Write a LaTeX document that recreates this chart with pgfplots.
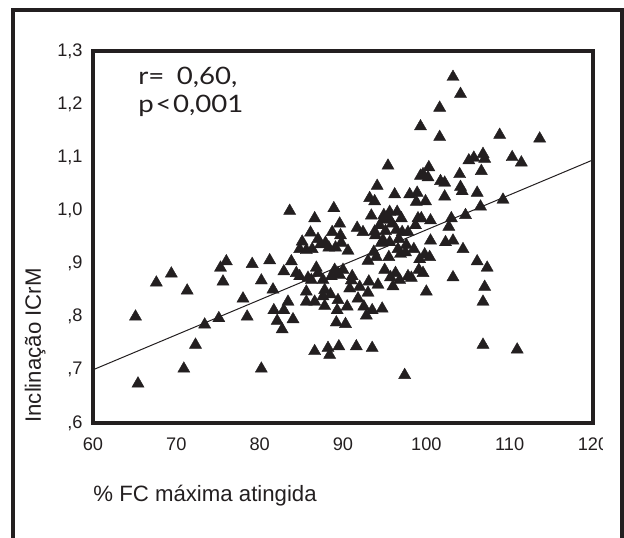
\documentclass[border=0pt]{standalone}
\usepackage{fontspec}
\setmainfont{Liberation Sans}
\newfontfamily\statfont{Lato}
\usepackage{graphicx}
\usepackage{trimclip}
\usepackage{pgfplots}
\pgfplotsset{compat=1.18}
\definecolor{ink}{RGB}{35,31,32}

\begin{document}
\begin{tikzpicture}
\begin{axis}[
    scale only axis,
    width=250pt, height=186pt,
    xmin=60, xmax=120, ymin=0.6, ymax=1.3,
    xtick={60,70,80,90,100,110,120},
    xticklabels={60,70,80,90,100,110,{\makebox{\clipbox{0pt 0pt 2.8pt 0pt}{120}\hspace{2.8pt}}}},
    ytick={0.6,0.7,0.8,0.9,1.0,1.1,1.2,1.3},
    yticklabels={{,6},{,7},{,8},{,9},{1,0},{1,1},{1,2},{1,3}},
    major tick length=0pt,
    axis line style={draw=ink, line width=1.65pt},
    clip=false,
    tick label style={font=\fontsize{9.1}{11}\selectfont, text=ink, inner sep=0pt},
    yticklabel style={xshift=-5pt},
    xticklabel style={yshift=-7.3pt},
    xlabel={\% FC máxima atingida},
    ylabel={Inclinação ICrM},
    xlabel style={at={(rel axis cs:0,-0.212)}, anchor=base west, inner sep=0pt,
        font=\fontsize{11.1}{13}\selectfont, text=ink},
    ylabel style={at={(rel axis cs:-0.104,0)}, anchor=base west, inner sep=0pt,
        font=\fontsize{11.1}{13}\selectfont, text=ink},
]
\addplot[ink, line width=0.5pt, no marks] coordinates {(60,0.70) (120,1.095)};
\addplot[only marks, mark=triangle*, mark size=3.5pt,
    mark options={fill=ink, draw=ink, line width=0.2pt}] table {
x y
65.1 0.800
65.4 0.674
67.6 0.864
69.4 0.881
71.3 0.849
70.9 0.702
72.3 0.747
73.4 0.785
75.1 0.797
75.3 0.892
76.0 0.904
75.6 0.866
78.0 0.834
78.5 0.800
79.1 0.899
80.2 0.868
80.2 0.702
81.2 0.906
81.6 0.851
81.7 0.812
82.1 0.792
82.7 0.776
82.9 0.812
83.4 0.828
82.9 0.885
83.6 0.999
83.8 0.904
84.0 0.795
84.4 0.882
84.8 0.927
84.8 0.876
85.1 0.941
85.6 0.847
85.6 0.828
85.8 0.873
86.1 0.958
86.3 0.927
86.6 0.828
86.6 0.985
86.6 0.735
86.8 0.892
87.0 0.946
87.0 0.882
87.3 0.936
87.6 0.869
87.8 0.850
87.9 0.939
88.2 0.741
88.4 0.728
88.5 0.842
88.7 0.959
88.9 1.004
89.0 0.888
89.1 0.930
89.2 0.789
89.3 0.812
89.4 0.831
89.4 0.882
89.5 0.744
89.6 0.975
89.7 0.953
89.8 0.939
90.0 0.888
90.3 0.786
90.5 0.819
90.6 0.924
90.8 0.853
91.1 0.876
91.6 0.744
91.7 0.967
91.8 0.834
92.0 0.856
92.4 0.959
92.5 0.819
92.8 0.802
93.0 0.905
93.1 0.866
93.2 1.023
93.4 0.990
93.5 0.741
93.5 0.812
93.7 0.922
93.8 1.017
93.9 0.953
94.1 1.046
94.2 0.860
94.4 0.972
94.6 0.939
94.7 0.815
94.9 0.991
95.0 0.888
95.1 0.961
95.4 1.084
95.5 0.912
95.6 0.997
95.7 0.874
95.9 0.975
96.2 1.030
96.3 0.882
96.5 0.997
96.6 0.927
96.7 0.946
96.8 0.869
97.0 0.985
97.1 0.959
97.4 0.690
97.5 0.921
97.8 0.959
97.8 0.876
98.0 1.030
98.2 0.873
98.5 0.927
98.7 0.972
98.9 1.033
99.0 0.985
99.1 0.888
99.2 0.908
99.3 1.158
99.3 1.065
99.4 0.985
99.6 0.882
99.8 0.917
99.9 1.017
100.0 0.847
100.2 1.062
100.3 1.081
100.4 0.912
100.5 0.981
100.5 0.943
101.6 1.193
101.6 1.138
101.7 1.055
102.2 1.052
102.2 1.026
102.3 0.940
102.7 0.969
103.0 0.985
103.2 1.251
103.2 0.874
103.2 0.943
104.0 1.068
104.1 1.219
104.1 1.044
104.3 1.036
104.4 0.927
104.7 0.991
105.1 1.094
105.7 1.099
106.1 1.033
106.1 0.904
106.5 1.007
106.6 1.074
106.8 0.828
106.8 0.747
106.8 1.106
107.0 0.856
107.0 1.097
107.3 0.892
108.8 1.142
109.2 1.020
110.3 1.100
110.9 0.738
111.4 1.090
113.6 1.135
93.8 0.960
96.4 0.963
85.6 0.925
88.3 0.930
95.6 0.940
97.6 0.935
88.6 0.876
89.6 0.878
86.2 0.869
87.6 0.838
87.8 0.820
91.0 0.868
96.0 0.857
93.0 0.845
99.6 1.068
98.8 1.016
94.8 0.982
95.6 0.983
94.8 0.944
94.0 0.912
96.9 0.918
};
% statistics text
\node[anchor=base west, inner sep=0pt, text=ink] at (axis cs:65.4,1.236)
    {\statfont\fontsize{12}{14}\selectfont\scalebox{1.15}[1]{r=\hspace{0.45em}0,60,}};
\node[anchor=base west, inner sep=0pt, text=ink] at (axis cs:65.4,1.185)
    {\statfont\fontsize{12}{14}\selectfont\scalebox{1.15}[1]{p\hspace{0.06em}<\hspace{0.06em}0,001}};
% outer frame, its bottom edge lies below the picture
\draw[ink, line width=2pt] (rel axis cs:-0.16,-0.45) -- (rel axis cs:-0.16,1.110)
    -- (rel axis cs:1.058,1.110) -- (rel axis cs:1.058,-0.45);
\coordinate (bl) at (rel axis cs:-0.186,-0.309);
\coordinate (tr) at (rel axis cs:1.062,1.137);
\end{axis}
\pgfresetboundingbox
\path[use as bounding box] (bl) rectangle (tr);
\end{tikzpicture}
\end{document}
